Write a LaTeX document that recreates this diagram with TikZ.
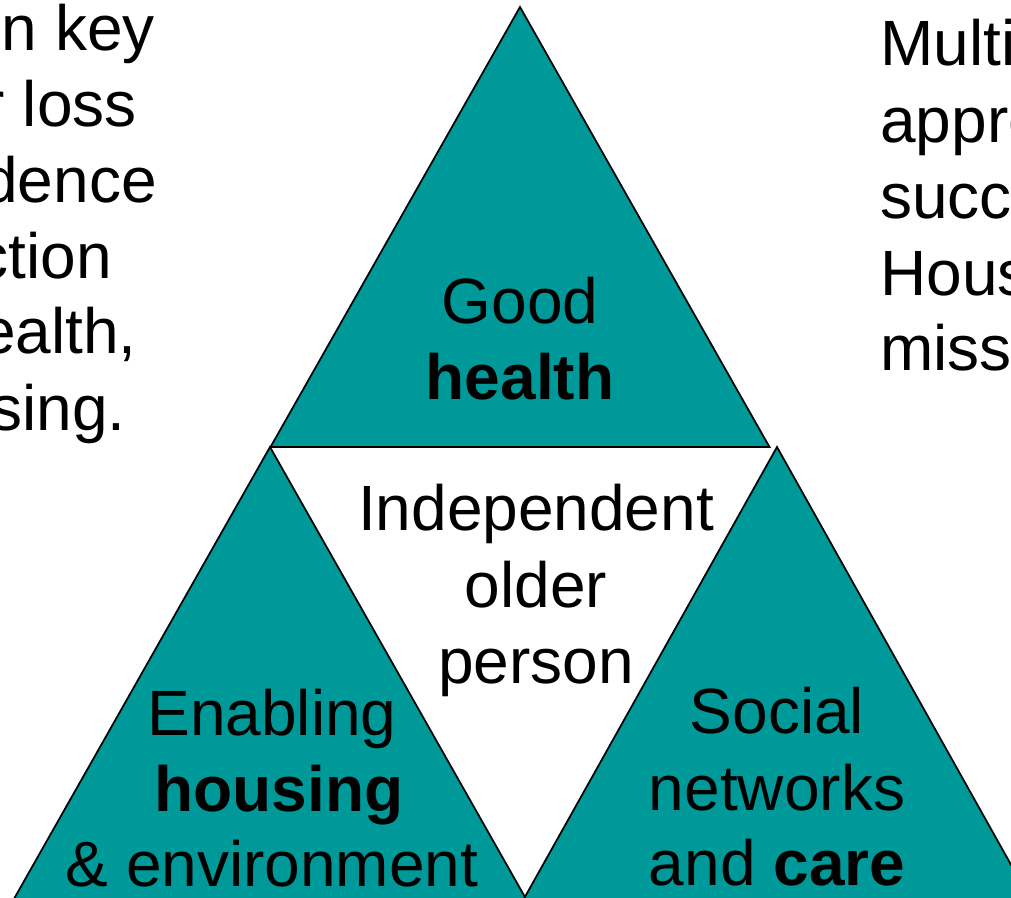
\documentclass[tikz,border=0pt]{standalone}
\usepackage{fontspec}
\setmainfont{Liberation Sans}
\definecolor{tealfill}{RGB}{0,153,153}
\tikzset{
	tri/.style={draw=black, line width=1.3pt, fill=tealfill, line join=miter},
	lbl/.style={inner sep=0pt, anchor=base, font=\fontsize{48}{57}\selectfont},
	sidetext/.style={lbl, anchor=base west},
	cuttext/.style={lbl, anchor=base east}
}

\begin{document}
\begin{tikzpicture}[x=0.75pt, y=-0.75pt]
	\useasboundingbox (0,0) rectangle (1011,897);
	\clip (0,0) rectangle (1011,897);
	\filldraw[tri] (520,7) -- (270.5,447) -- (769.5,447) -- cycle;
	\filldraw[tri] (270,447) -- (2,920) -- (538,920) -- cycle;
	\filldraw[tri] (777,447) -- (512,920) -- (1042,920) -- cycle;
	\node[lbl] (good) at (520,323) {Good};
	\node[lbl] (health) at (520,399) {\bfseries health};
	\node[lbl] (indep) at (536,530) {Independent};
	\node[lbl] (older) at (536,607) {older};
	\node[lbl] (person) at (536,683) {person};
	\node[lbl] (enabling) at (272,735) {Enabling};
	\node[lbl] (housing) at (279,811) {\bfseries housing};
	\node[lbl] (environment) at (272,886) {\& environment};
	\node[lbl] (social) at (777,733) {Social};
	\node[lbl] (networks) at (777,810) {networks};
	\node[lbl] (care) at (777,885) {and \textbf{care}};
	\node[cuttext] (left1) at (155,50) {n key};
	\node[cuttext] (left2) at (137,126) {r loss};
	\node[cuttext] (left3) at (157,202) {dence};
	\node[cuttext] (left4) at (112,278) {ction};
	\node[cuttext] (left5) at (137,353) {ealth,};
	\node[cuttext] (left6) at (126,430) {sing.};
	\node[sidetext] (right1) at (880,65) {Multi};
	\node[sidetext] (right2) at (880,142) {appro};
	\node[sidetext] (right3) at (880,218) {succ};
	\node[sidetext] (right4) at (880,295) {Hous};
	\node[sidetext] (right5) at (880,370) {miss};
\end{tikzpicture}
\end{document}
